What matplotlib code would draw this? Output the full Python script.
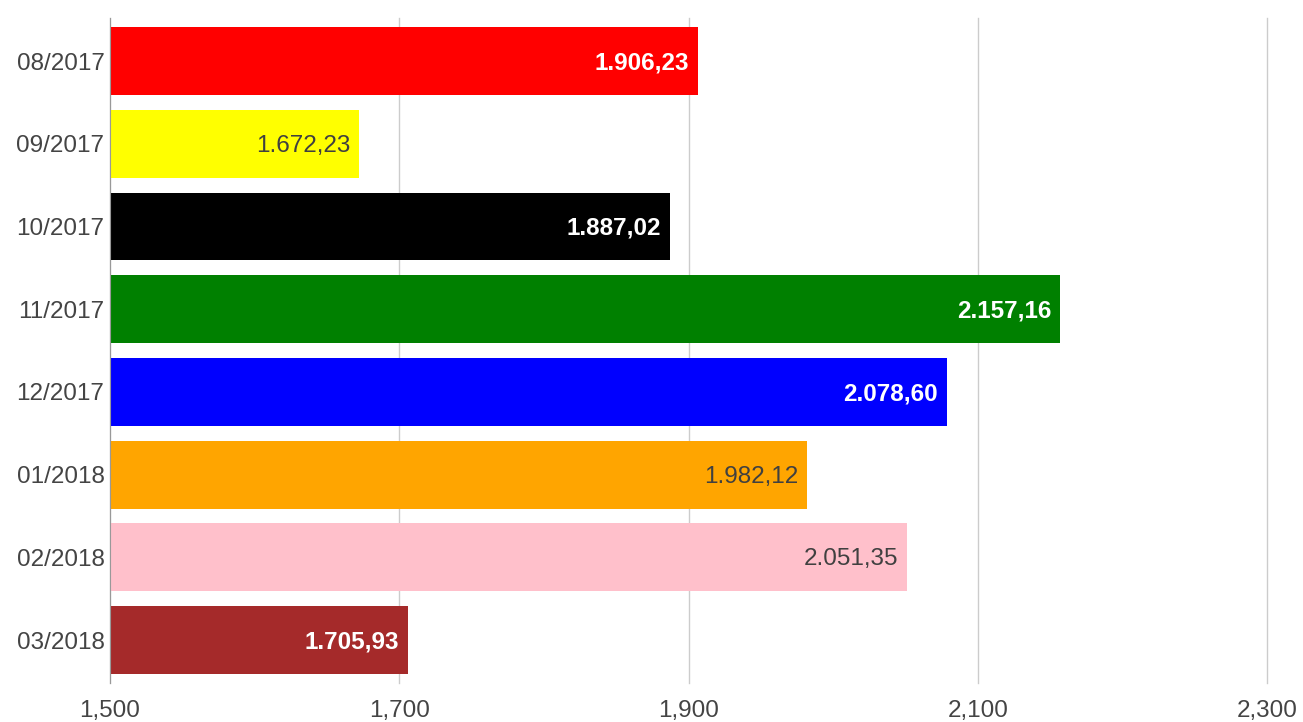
import matplotlib
matplotlib.use("Agg")
import matplotlib.pyplot as plt
from matplotlib.ticker import FuncFormatter

categories = ["08/2017", "09/2017", "10/2017", "11/2017", "12/2017", "01/2018", "02/2018", "03/2018"]
values = [1906.23, 1672.23, 1887.02, 2157.16, 2078.60, 1982.12, 2051.35, 1705.93]
colors = ["#ff0000", "#ffff00", "#000000", "#008000", "#0000ff", "#ffa500", "#ffc0cb", "#a52a2a"]
label_colors = ["white", "#404040", "white", "white", "white", "#404040", "#404040", "white"]
xticks = [1500, 1700, 1900, 2100, 2300]

plt.rcParams['font.family'] = ['Liberation Sans', 'DejaVu Sans']

fig = plt.figure(figsize=(13.03, 7.22), dpi=100)
ax = fig.add_axes([0.0844, 0.054, 0.888, 0.921])

base = xticks[0]
ypos = list(range(len(categories)))
ax.barh(ypos, [v - base for v in values], left=base, height=0.82, color=colors, zorder=3)

def fmt_de(v):
    s = f"{v:,.2f}"
    return s.replace(",", "X").replace(".", ",").replace("X", ".")

for y, v, c in zip(ypos, values, label_colors):
    ax.annotate(fmt_de(v), xy=(v, y), xytext=(-9, -2), textcoords="offset pixels",
                ha="right", va="center", fontsize=17.5, color=c, zorder=4,
                fontweight="bold" if c == "white" else "normal")

ax.set_xlim(1500, 2300)
ax.set_ylim(7.52, -0.52)
ax.set_xticks(xticks)
ax.xaxis.set_major_formatter(FuncFormatter(lambda v, p: f"{int(v):,}"))
ax.set_yticks(ypos)
ax.set_yticklabels(categories)
ax.tick_params(axis="both", length=0, labelsize=17.5, labelcolor="#444444")
ax.tick_params(axis="x", pad=12)
ax.tick_params(axis="y", pad=4)
ax.grid(axis="x", color="#cccccc", linewidth=1, zorder=0)
for gl in ax.get_xgridlines():
    gl.set_clip_on(False)
for s in ["top", "right", "bottom"]:
    ax.spines[s].set_visible(False)
ax.spines["left"].set_color("#999999")
ax.spines["left"].set_zorder(5)

fig.savefig("out.png", dpi=100)
